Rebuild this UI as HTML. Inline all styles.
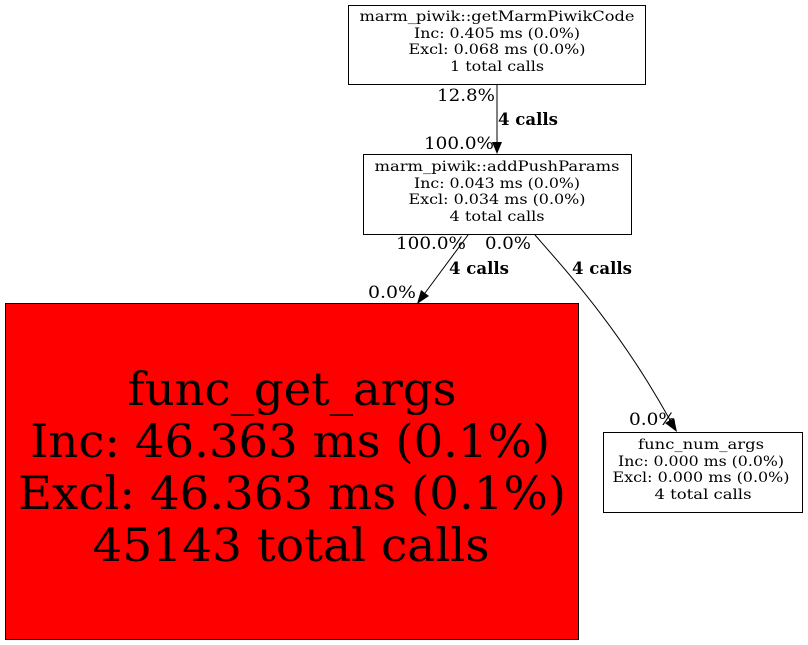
<!DOCTYPE html>
<html><head><meta charset="utf-8"><style>
html,body{margin:0;padding:0;background:#fff;width:808px;height:645px;overflow:hidden}
text{font-family:"DejaVu Serif","Liberation Serif",serif;fill:#000}
</style></head><body>
<svg width="808" height="645" viewBox="0 0 808 645" xmlns="http://www.w3.org/2000/svg">
<rect x="348.5" y="5.5" width="297" height="79" fill="#fff" stroke="#000"/>
<g font-size="14" text-anchor="middle">
<text x="497" y="21" textLength="275" lengthAdjust="spacingAndGlyphs">marm_piwik::getMarmPiwikCode</text>
<text x="497" y="38" textLength="166" lengthAdjust="spacingAndGlyphs">Inc: 0.405 ms (0.0%)</text>
<text x="497" y="54" textLength="177" lengthAdjust="spacingAndGlyphs">Excl: 0.068 ms (0.0%)</text>
<text x="497" y="71" textLength="94" lengthAdjust="spacingAndGlyphs">1 total calls</text>
</g>
<rect x="363.5" y="154.5" width="268" height="80" fill="#fff" stroke="#000"/>
<g font-size="14" text-anchor="middle">
<text x="497" y="171" textLength="245" lengthAdjust="spacingAndGlyphs">marm_piwik::addPushParams</text>
<text x="497" y="188" textLength="166" lengthAdjust="spacingAndGlyphs">Inc: 0.043 ms (0.0%)</text>
<text x="497" y="204" textLength="177" lengthAdjust="spacingAndGlyphs">Excl: 0.034 ms (0.0%)</text>
<text x="497" y="221" textLength="95" lengthAdjust="spacingAndGlyphs">4 total calls</text>
</g>
<rect x="5.5" y="303.5" width="573" height="336" fill="#ff0000" stroke="#000"/>
<g font-size="46" text-anchor="middle">
<text x="292" y="405" textLength="329" lengthAdjust="spacingAndGlyphs">func_get_args</text>
<text x="290" y="457" textLength="520" lengthAdjust="spacingAndGlyphs">Inc: 46.363 ms (0.1%)</text>
<text x="292" y="509" textLength="548" lengthAdjust="spacingAndGlyphs">Excl: 46.363 ms (0.1%)</text>
<text x="291" y="561" textLength="397" lengthAdjust="spacingAndGlyphs">45143 total calls</text>
</g>
<rect x="603.5" y="432.5" width="199" height="80" fill="#fff" stroke="#000"/>
<g font-size="14" text-anchor="middle">
<text x="701" y="449" textLength="126" lengthAdjust="spacingAndGlyphs">func_num_args</text>
<text x="701" y="466" textLength="166" lengthAdjust="spacingAndGlyphs">Inc: 0.000 ms (0.0%)</text>
<text x="701" y="482" textLength="177" lengthAdjust="spacingAndGlyphs">Excl: 0.000 ms (0.0%)</text>
<text x="703" y="499" textLength="97" lengthAdjust="spacingAndGlyphs">4 total calls</text>
</g>
<g stroke="#000" fill="none" stroke-width="1">
<path d="M497 85 L497 142"/>
<path d="M468 235 L425 293"/>
<path d="M535 235 C570 275 620 330 670 420"/>
</g>
<g fill="#000">
<polygon points="492,142 502,142 497,154"/>
<polygon points="421,290 429,296 417,304"/>
<polygon points="665,423 674,418 677,432"/>
</g>
<g font-size="17">
<text x="495" y="101" text-anchor="end" textLength="58" lengthAdjust="spacingAndGlyphs">12.8%</text>
<text x="498" y="125" font-weight="bold" textLength="60" lengthAdjust="spacingAndGlyphs">4 calls</text>
<text x="494" y="149" text-anchor="end" textLength="70" lengthAdjust="spacingAndGlyphs">100.0%</text>
<text x="466" y="249" text-anchor="end" textLength="70" lengthAdjust="spacingAndGlyphs">100.0%</text>
<text x="485" y="249" textLength="46" lengthAdjust="spacingAndGlyphs">0.0%</text>
<text x="449" y="274" font-weight="bold" textLength="60" lengthAdjust="spacingAndGlyphs">4 calls</text>
<text x="416" y="298" text-anchor="end" textLength="48" lengthAdjust="spacingAndGlyphs">0.0%</text>
<text x="572" y="274" font-weight="bold" textLength="60" lengthAdjust="spacingAndGlyphs">4 calls</text>
<text x="676" y="425" text-anchor="end" textLength="47" lengthAdjust="spacingAndGlyphs">0.0%</text>
</g>
</svg>
</body></html>
